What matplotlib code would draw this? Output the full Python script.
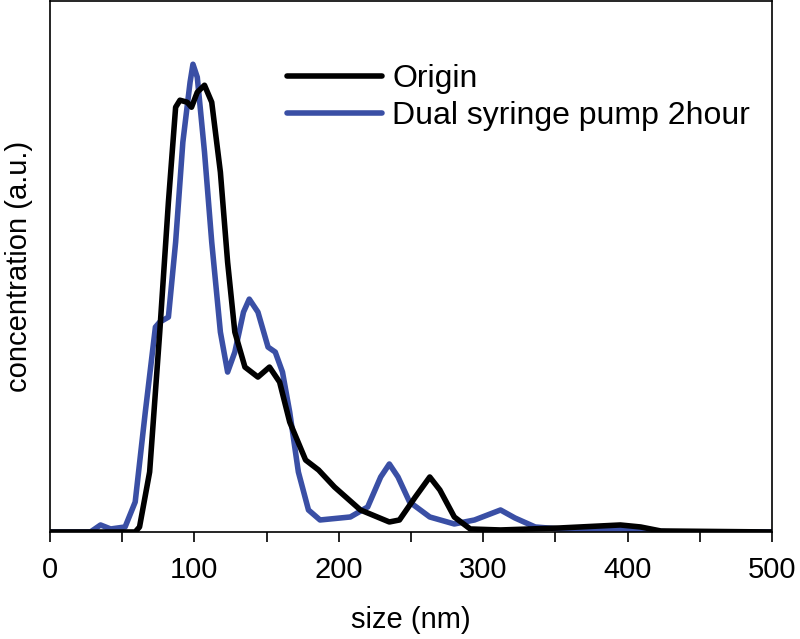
import numpy as np
import matplotlib.pyplot as plt

plt.rcParams['font.family'] = 'Liberation Sans'

# size (nm) and concentration (a.u.)
originSize = [0, 59, 62, 69, 76, 82, 87, 90, 95, 98, 102, 107, 112, 118, 123, 128, 135, 144,
              152, 159, 166, 177, 186, 197, 215, 235, 242, 253, 263, 270, 280, 291, 312, 353,
              395, 409, 423, 500]
originConc = [0, 0, 5, 60, 200, 330, 425, 432, 430, 425, 440, 447, 430, 360, 270, 200, 165, 155,
              165, 150, 110, 72, 62, 45, 22, 10, 12, 35, 55, 42, 15, 3, 2, 4,
              7, 5, 1, 0]

dualSize = [0, 28, 35, 42, 52, 59, 66, 73, 76, 82, 87, 92, 97, 99, 102, 107, 112, 118, 123,
            128, 134, 138, 144, 151, 156, 161, 166, 172, 179, 187, 208, 220, 229, 235, 241,
            249, 263, 280, 294, 312, 322, 336, 353, 395, 415, 430, 500]
dualConc = [0, 0, 7, 3, 5, 30, 120, 205, 210, 215, 290, 390, 450, 468, 455, 380, 290, 200, 160,
            180, 220, 233, 220, 185, 180, 160, 120, 60, 22, 12, 15, 25, 55, 68, 55,
            30, 15, 8, 12, 22, 14, 5, 3, 3, 1, 0, 0]

fig = plt.figure(figsize=(8, 6.39), dpi=100)
ax = fig.add_axes([0.0625, 0.1675, 0.9025, 0.8305])

ax.plot(originSize, originConc, color='black', lw=4, solid_joinstyle='round',
        solid_capstyle='round', label='Origin', zorder=3)
ax.plot(dualSize, dualConc, color='#3a4fa5', lw=4, solid_joinstyle='round',
        solid_capstyle='round', label='Dual syringe pump 2hour', zorder=2)

ax.set_xlim(0, 500)
ax.set_ylim(0, 531)
ax.set_xticks(np.arange(0, 501, 100))
ax.set_xticks(np.arange(50, 500, 100), minor=True)
ax.tick_params(axis='x', which='both', direction='out', length=7, width=1.2, labelsize=21, pad=10)
ax.set_yticks([])
for s in ax.spines.values():
    s.set_linewidth(1.2)

ax.set_xlabel('size (nm)', fontsize=21, labelpad=16)
ax.set_ylabel('concentration (a.u.)', fontsize=21, labelpad=12)

ax.legend(loc='upper left', bbox_to_anchor=(0.31, 0.905), frameon=False, fontsize=23,
          handlelength=3.0, handletextpad=0.3, labelspacing=0.2, borderaxespad=0)

fig.savefig('out.png', dpi=100)
